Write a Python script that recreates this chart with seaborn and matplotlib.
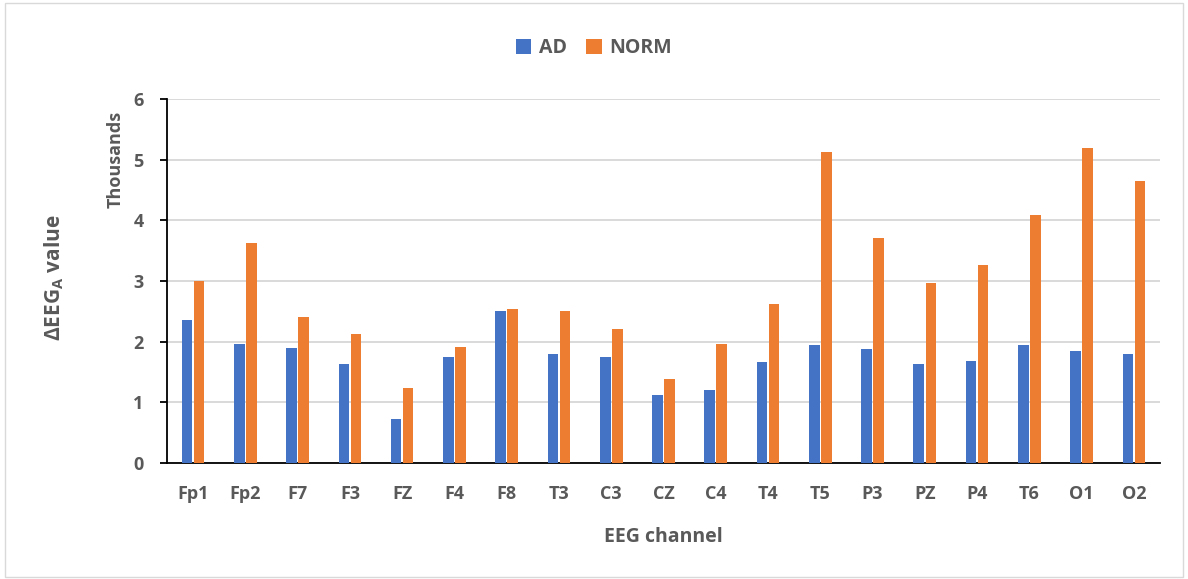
import matplotlib
matplotlib.use("Agg")
import matplotlib.pyplot as plt
import seaborn as sns
import pandas as pd
import numpy as np
from matplotlib.patches import Rectangle

sns.set_style("white")
plt.rcParams['font.family'] = ['Open Sans', 'DejaVu Sans']
plt.rcParams['mathtext.fontset'] = 'custom'
plt.rcParams['mathtext.rm'] = 'Open Sans'
plt.rcParams['mathtext.bf'] = 'Open Sans:bold'

# channel names and values (in thousands)
channels = ["Fp1", "Fp2", "F7", "F3", "FZ", "F4", "F8", "T3", "C3", "CZ",
            "C4", "T4", "T5", "P3", "PZ", "P4", "T6", "O1", "O2"]
ad = [2.35, 1.97, 1.89, 1.64, 0.73, 1.75, 2.51, 1.80, 1.74, 1.12,
      1.21, 1.66, 1.95, 1.88, 1.64, 1.68, 1.95, 1.85, 1.79]
norm = [3.00, 3.63, 2.40, 2.13, 1.23, 1.91, 2.54, 2.51, 2.21, 1.39,
        1.97, 2.62, 5.12, 3.71, 2.97, 3.26, 4.09, 5.20, 4.65]

df = pd.DataFrame({"channel": channels * 2,
                   "value": ad + norm,
                   "group": ["AD"] * len(channels) + ["NORM"] * len(channels)})

grey = "#595959"
fig, ax = plt.subplots(figsize=(11.88, 5.79), dpi=100)
fig.subplots_adjust(left=0.1406, right=0.9764, top=0.829, bottom=0.2003)

sns.barplot(data=df, x="channel", y="value", hue="group",
            palette={"AD": "#4472C4", "NORM": "#ED7D31"}, saturation=1,
            width=0.46, gap=0.12, linewidth=0, ax=ax, zorder=3)

ax.set_ylim(0, 6)
ax.set_xlim(-0.5, len(channels) - 0.5)
ax.set_yticks(range(7))
ax.yaxis.grid(True, color="#d9d9d9", linewidth=1.4, zorder=0)
ax.set_axisbelow(True)

for s in ["top", "right"]:
    ax.spines[s].set_visible(False)
for s in ["left", "bottom"]:
    ax.spines[s].set_color("black")
    ax.spines[s].set_linewidth(1.3)

# category boundaries as tick marks
ax.set_xticks(np.arange(-0.5, len(channels)), minor=True)
ax.tick_params(axis="x", which="minor", length=6, width=1.3, color="black", direction="out")
ax.tick_params(axis="x", which="major", length=0, pad=16, labelsize=13, labelcolor=grey)
ax.tick_params(axis="y", length=5, width=1.3, color="black", direction="out",
               pad=12, labelsize=13, labelcolor=grey, left=True)
for lbl in ax.get_xticklabels() + ax.get_yticklabels():
    lbl.set_fontweight("bold")

ax.set_xlabel("EEG channel", fontsize=14, fontweight="bold", color=grey, labelpad=17)
ax.set_ylabel("")
fig.text(0.046, 0.52, r"$\mathbf{\Delta EEG_{A}}$ value", rotation=90, ha="center", va="center",
         fontsize=15, fontweight="bold", color=grey)
fig.text(0.097, 0.724, "Thousands", rotation=90, ha="center", va="center",
         fontsize=13, fontweight="bold", color=grey)

sns.move_legend(ax, "lower center", bbox_to_anchor=(0.43, 1.065), ncol=2, frameon=False,
                title=None, fontsize=14, handlelength=0.8, handleheight=0.8,
                handletextpad=0.4, columnspacing=1.0)
for t in ax.get_legend().get_texts():
    t.set_fontweight("bold")
    t.set_color(grey)

fig.patches.append(Rectangle((0.004, 0.004), 0.992, 0.99, transform=fig.transFigure,
                             fill=False, edgecolor="#d9d9d9", linewidth=1))

fig.savefig("out.png", dpi=100)
